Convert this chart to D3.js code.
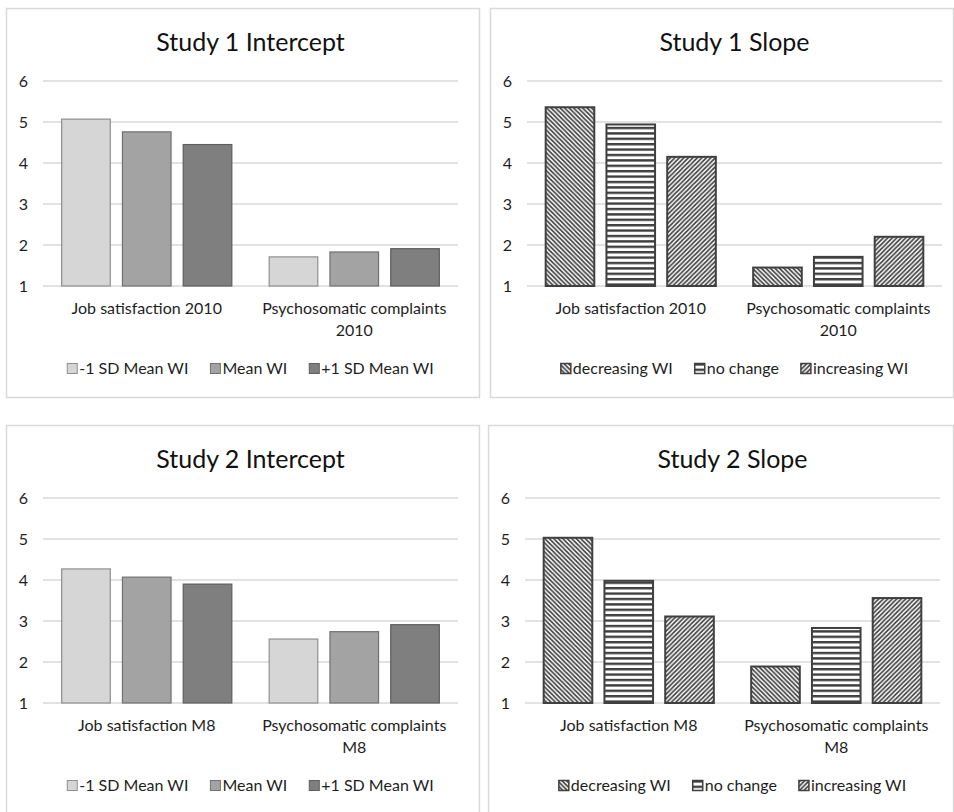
<!DOCTYPE html>
<html>
<head>
<meta charset="utf-8">
<title>Study intercepts and slopes</title>
<style>
    html, body { margin: 0; padding: 0; background: #fff; }
    svg { display: block; font-family: Lato, "Open Sans", sans-serif; }
    .tick text { font-size: 16px; fill: #1e1e1e; }
    .cat { font-size: 16px; fill: #1e1e1e; }
    .title { font-size: 25px; fill: #111; }
    .leg { font-size: 16px; fill: #1e1e1e; }
</style>
</head>
<body>
<svg id="svg" width="954" height="812"></svg>

<script src="https://cdn.jsdelivr.net/npm/d3@7"></script>
<script>
// data
var yTicks = [1, 2, 3, 4, 5, 6];

var interceptSeries = ['-1 SD Mean WI', 'Mean WI', '+1 SD Mean WI'];
var slopeSeries = ['decreasing WI', 'no change', 'increasing WI'];

var study1Cats = [['Job satisfaction 2010'], ['Psychosomatic complaints', '2010']];
var study2Cats = [['Job satisfaction M8'], ['Psychosomatic complaints', 'M8']];

// rows = category, columns = series
var study1Intercept = [[5.07, 4.76, 4.45], [1.71, 1.83, 1.91]];
var study1Slope = [[5.36, 4.94, 4.15], [1.45, 1.71, 2.20]];
var study2Intercept = [[4.27, 4.07, 3.90], [2.56, 2.74, 2.91]];
var study2Slope = [[5.03, 3.98, 3.11], [1.89, 2.83, 3.56]];

var svg = d3.select('#svg');
var defs = svg.append('defs');

// hatch patterns for the slope charts
var ink = '#3f3f3f';
function hatch(id, w, h, draw) {
    var p = defs.append('pattern')
        .attr('id', id)
        .attr('patternUnits', 'userSpaceOnUse')
        .attr('width', w)
        .attr('height', h);
    p.append('rect').attr('width', w).attr('height', h).attr('fill', '#fff');
    draw(p);
}
hatch('pDown', 4.5, 4.5, function (p) {
    p.append('path')
        .attr('d', 'M0,0L4.5,4.5M-1,3.5L1,5.5M3.5,-1L5.5,1')
        .attr('stroke', ink).attr('stroke-width', 1.7);
});
hatch('pUp', 4.5, 4.5, function (p) {
    p.append('path')
        .attr('d', 'M0,4.5L4.5,0M-1,1L1,-1M3.5,5.5L5.5,3.5')
        .attr('stroke', ink).attr('stroke-width', 1.7);
});
hatch('pHoriz', 6, 5.4, function (p) {
    p.append('rect').attr('y', 0).attr('width', 6).attr('height', 2.4).attr('fill', ink);
});

var greyStyle = {
    fill: ['#d6d6d6', '#a3a3a3', '#7f7f7f'],
    stroke: ['#8f8f8f', '#727272', '#5e5e5e'],
    width: 1.2
};
var hatchStyle = {
    fill: ['url(#pDown)', 'url(#pHoriz)', 'url(#pUp)'],
    stroke: ['#404040', '#404040', '#404040'],
    width: 2
};

var panels = [
    {x: 6, y: 8, w: 473, h: 389, title: 'Study 1 Intercept', cats: study1Cats, series: interceptSeries, values: study1Intercept, style: greyStyle},
    {x: 490, y: 8, w: 463, h: 389, title: 'Study 1 Slope', cats: study1Cats, series: slopeSeries, values: study1Slope, style: hatchStyle},
    {x: 6, y: 425, w: 473, h: 390, title: 'Study 2 Intercept', cats: study2Cats, series: interceptSeries, values: study2Intercept, style: greyStyle},
    {x: 488, y: 425, w: 465, h: 390, title: 'Study 2 Slope', cats: study2Cats, series: slopeSeries, values: study2Slope, style: hatchStyle}
];

panels.forEach(function (p) { drawPanel(p); });

function drawPanel(p) {
    var g = svg.append('g').attr('transform', 'translate(' + p.x + ',' + p.y + ')');

    g.append('rect')
        .attr('x', 0.5).attr('y', 0.5)
        .attr('width', p.w).attr('height', p.h)
        .attr('fill', '#fff')
        .attr('stroke', '#d9d9d9')
        .attr('stroke-width', 1.5);

    var left = 37, right = 452, top = 73, bottom = 278;

    g.append('text')
        .attr('class', 'title')
        .attr('x', (left + right) / 2)
        .attr('y', 43)
        .attr('text-anchor', 'middle')
        .text(p.title);

    var y = d3.scaleLinear().domain([1, 6]).range([bottom, top]);
    var catIdx = p.cats.map(function (d, i) { return i; });
    var x0 = d3.scaleBand().domain(catIdx).range([left, right]).paddingInner(0.18).paddingOuter(0.09);
    var x1 = d3.scaleBand().domain(p.series).range([0, x0.bandwidth()]).paddingInner(0.2);

    // gridlines
    g.append('g').selectAll('line')
        .data(yTicks)
        .enter()
        .append('line')
        .attr('x1', left).attr('x2', right)
        .attr('y1', function (d) { return y(d); })
        .attr('y2', function (d) { return y(d); })
        .attr('stroke', '#d9d9d9')
        .attr('stroke-width', 1.3);

    var ax = g.append('g')
        .attr('transform', 'translate(' + left + ',0)')
        .call(d3.axisLeft(y).tickValues(yTicks).tickFormat(d3.format('d')).tickSize(0).tickPadding(15));
    ax.select('.domain').remove();
    ax.selectAll('text').style('font-family', 'Lato, sans-serif');

    // bars
    var groups = g.append('g').selectAll('g')
        .data(p.values)
        .enter()
        .append('g')
        .attr('transform', function (d, i) { return 'translate(' + x0(i) + ',0)'; });

    groups.selectAll('rect')
        .data(function (d) { return d.map(function (v, j) { return {v: v, j: j}; }); })
        .enter()
        .append('rect')
        .attr('x', function (d) { return x1(p.series[d.j]); })
        .attr('width', x1.bandwidth())
        .attr('y', function (d) { return y(d.v); })
        .attr('height', function (d) { return y(1) - y(d.v); })
        .attr('fill', function (d) { return p.style.fill[d.j]; })
        .attr('stroke', function (d) { return p.style.stroke[d.j]; })
        .attr('stroke-width', p.style.width);

    // category labels
    var cl = g.append('g').selectAll('text')
        .data(p.cats)
        .enter()
        .append('text')
        .attr('class', 'cat')
        .attr('text-anchor', 'middle')
        .attr('x', function (d, i) { return x0(i) + x0.bandwidth() / 2; });
    cl.selectAll('tspan')
        .data(function (d) { return d; })
        .enter()
        .append('tspan')
        .attr('x', function () { return this.parentNode.getAttribute('x'); })
        .attr('y', function (d, k) { return 306 + k * 22; })
        .text(function (d) { return d; });

    // legend
    var leg = g.append('g');
    var items = leg.selectAll('g')
        .data(p.series)
        .enter()
        .append('g');
    items.append('rect')
        .attr('width', 10).attr('height', 10)
        .attr('y', -10.5)
        .attr('fill', function (d, j) { return p.style.fill[j]; })
        .attr('stroke', function (d, j) { return p.style.stroke[j]; })
        .attr('stroke-width', p.style === hatchStyle ? 1.5 : 1);
    items.append('text')
        .attr('class', 'leg')
        .attr('x', 12)
        .attr('y', 0)
        .text(function (d) { return d; });
    var pos = 0;
    items.each(function () {
        var w = this.getBBox().width;
        d3.select(this).attr('transform', 'translate(' + pos + ',366)');
        pos += w + 22;
    });
    var total = pos - 22;
    leg.attr('transform', 'translate(' + ((left + right) / 2 - total / 2) + ',0)');
}
</script>
</body>
</html>
